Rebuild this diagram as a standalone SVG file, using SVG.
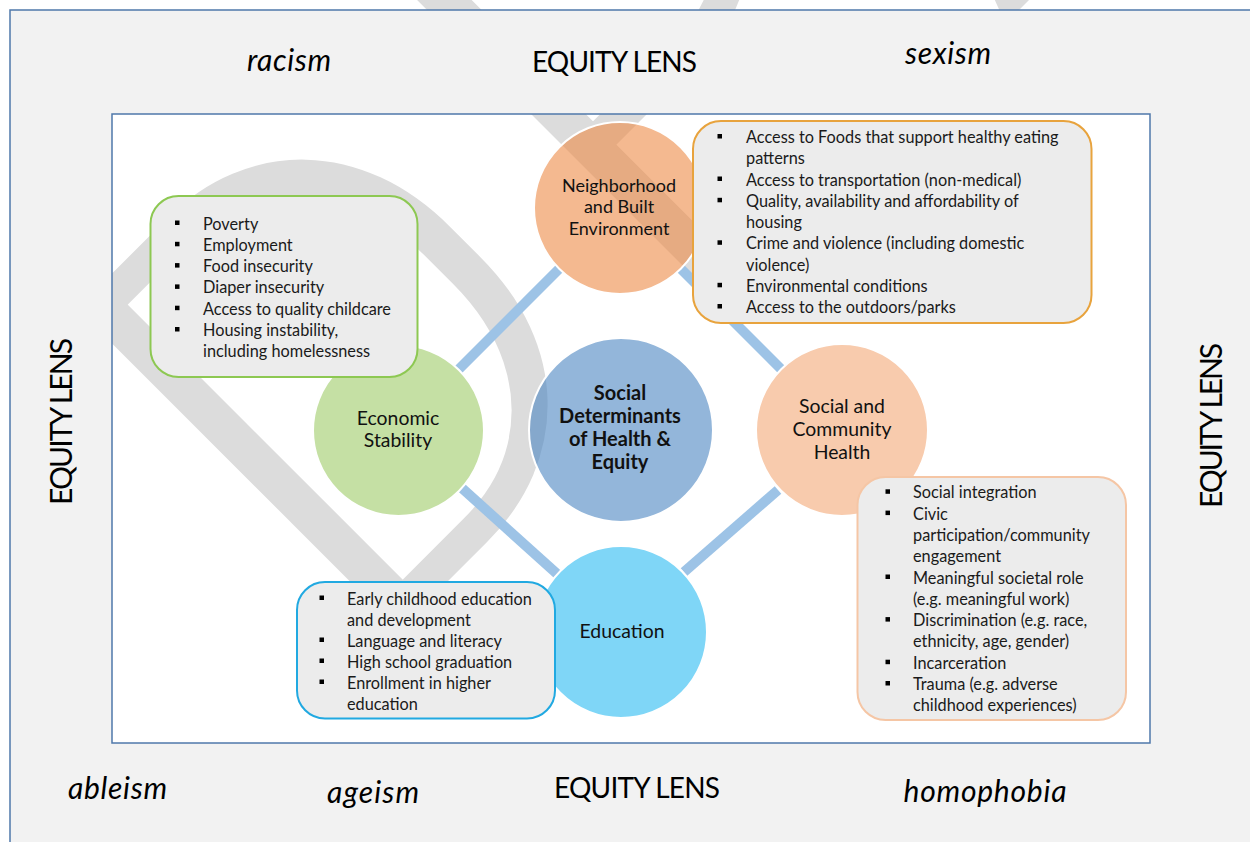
<svg xmlns="http://www.w3.org/2000/svg" width="1250" height="842" viewBox="0 0 1250 842">
<defs>
<style>
.lbl{font-family:Lato,"Open Sans","Liberation Sans",sans-serif;fill:#000}
.lens{font-size:28px}
.ism{font-size:30px;font-style:italic}
.box{font-family:Lato,"Liberation Sans",sans-serif;font-size:16.3px;fill:#1a1a1a}
.ct{font-family:Lato,"Liberation Sans",sans-serif;font-size:19.4px;fill:#111;text-anchor:middle}
.conn{stroke:#9dc3e6;stroke-width:10;fill:none}
.circ{stroke:#fff;stroke-width:2;fill-opacity:0.6}
.card{fill:#ececec;stroke-width:2}
.frame{fill:none;stroke:#4f78ab;stroke-width:1.5}
</style>
</defs>
<rect width="1250" height="842" fill="#fff"/>
<g id="watermark">
<text transform="translate(358,671) rotate(-45)" font-family="Roboto,'DejaVu Sans',sans-serif" font-weight="300" font-size="640" letter-spacing="40" fill="#dcdcdc">DRAFT</text>
</g>
<path id="frame-band" d="M10,10 H1252 V844 H10 Z M112,114 V743 H1150 V114 Z" fill="#f2f2f2" fill-rule="evenodd"/>
<rect class="frame" x="10" y="10" width="1250" height="840"/>
<rect class="frame" x="112" y="114" width="1038" height="629"/>

<g id="labels" class="lbl">
<text class="lens" x="614.5" y="72" text-anchor="middle" textLength="165">EQUITY LENS</text>
<text class="lens" x="637" y="798" text-anchor="middle" textLength="166">EQUITY LENS</text>
<text class="lens" transform="translate(72,421.5) rotate(-90)" text-anchor="middle" textLength="167" style="font-size:30px">EQUITY LENS</text>
<text class="lens" transform="translate(1222,425.5) rotate(-90)" text-anchor="middle" textLength="165" style="font-size:30px">EQUITY LENS</text>
<text class="ism" x="247" y="71" textLength="84">racism</text>
<text class="ism" x="905" y="64" textLength="86">sexism</text>
<text class="ism" x="68" y="799" textLength="99">ableism</text>
<text class="ism" x="327" y="803" textLength="92">ageism</text>
<text class="ism" x="903.5" y="802" textLength="163">homophobia</text>
</g>

<g id="connectors">
<line class="conn" x1="458.8" y1="369.2" x2="559.2" y2="268.8"/>
<line class="conn" x1="680.8" y1="268.8" x2="781.2" y2="369.2"/>
<line class="conn" x1="461.8" y1="488" x2="557.2" y2="574"/>
<line class="conn" x1="778" y1="490" x2="684" y2="572"/>
</g>

<g id="node-center">
<circle class="circ" cx="621" cy="430" r="92" fill="#4b85c1"/>
<text class="ct" style="font-weight:bold;font-size:20px"><tspan x="620" y="400">Social</tspan><tspan x="620" y="422.7">Determinants</tspan><tspan x="620" y="446">of Health &amp;</tspan><tspan x="620" y="468.5">Equity</tspan></text>
</g>

<g id="node-neighborhood">
<circle class="circ" cx="620" cy="208" r="86" fill="#ed8a46"/>
<text class="ct" style="font-size:18px"><tspan x="619" y="191.5">Neighborhood</tspan><tspan x="619" y="213">and Built</tspan><tspan x="619" y="234.5">Environment</tspan></text>
<rect class="card" x="693" y="121" width="398.5" height="202" rx="28" stroke="#e8a33d"/>
<g fill="#000"><rect x="717.5" y="134" width="4.5" height="4.5"/><rect x="717.5" y="176.5" width="4.5" height="4.5"/><rect x="717.5" y="197.8" width="4.5" height="4.5"/><rect x="717.5" y="240.3" width="4.5" height="4.5"/><rect x="717.5" y="282.8" width="4.5" height="4.5"/><rect x="717.5" y="304" width="4.5" height="4.5"/></g>
<text class="box"><tspan x="746" y="143">Access to Foods that support healthy eating</tspan><tspan x="746" y="164.3">patterns</tspan><tspan x="746" y="185.5">Access to transportation (non-medical)</tspan><tspan x="746" y="206.8">Quality, availability and affordability of</tspan><tspan x="746" y="228">housing</tspan><tspan x="746" y="249.3">Crime and violence (including domestic</tspan><tspan x="746" y="270.5">violence)</tspan><tspan x="746" y="291.8">Environmental conditions</tspan><tspan x="746" y="313">Access to the outdoors/parks</tspan></text>
</g>

<g id="node-economic">
<circle class="circ" cx="398.5" cy="430.5" r="85.5" fill="#9ecb67"/>
<text class="ct"><tspan x="398" y="424.5">Economic</tspan><tspan x="398" y="446.8">Stability</tspan></text>
<rect class="card" x="150.5" y="196" width="267" height="181" rx="28" stroke="#8dc852"/>
<g fill="#000"><rect x="175" y="220.5" width="4.5" height="4.5"/><rect x="175" y="241.8" width="4.5" height="4.5"/><rect x="175" y="263.1" width="4.5" height="4.5"/><rect x="175" y="284.4" width="4.5" height="4.5"/><rect x="175" y="305.7" width="4.5" height="4.5"/><rect x="175" y="327" width="4.5" height="4.5"/></g>
<text class="box"><tspan x="203" y="229.5">Poverty</tspan><tspan x="203" y="250.8">Employment</tspan><tspan x="203" y="272.1">Food insecurity</tspan><tspan x="203" y="293.4">Diaper insecurity</tspan><tspan x="203" y="314.7">Access to quality childcare</tspan><tspan x="203" y="336">Housing instability,</tspan><tspan x="203" y="357.3">including homelessness</tspan></text>
</g>

<g id="node-social">
<circle class="circ" cx="842" cy="430" r="86" fill="#f3a876"/>
<text class="ct"><tspan x="842" y="413">Social and</tspan><tspan x="842" y="436">Community</tspan><tspan x="842" y="459">Health</tspan></text>
<rect class="card" x="857.5" y="477" width="268.5" height="243" rx="28" stroke="#f5c6a5"/>
<g fill="#000"><rect x="885.5" y="489.3" width="4.5" height="4.5"/><rect x="885.5" y="510.6" width="4.5" height="4.5"/><rect x="885.5" y="574.5" width="4.5" height="4.5"/><rect x="885.5" y="617.1" width="4.5" height="4.5"/><rect x="885.5" y="659.7" width="4.5" height="4.5"/><rect x="885.5" y="681" width="4.5" height="4.5"/></g>
<text class="box"><tspan x="913" y="498.3">Social integration</tspan><tspan x="913" y="519.6">Civic</tspan><tspan x="913" y="540.9">participation/community</tspan><tspan x="913" y="562.2">engagement</tspan><tspan x="913" y="583.5">Meaningful societal role</tspan><tspan x="913" y="604.8">(e.g. meaningful work)</tspan><tspan x="913" y="626.1">Discrimination (e.g. race,</tspan><tspan x="913" y="647.4">ethnicity, age, gender)</tspan><tspan x="913" y="668.7">Incarceration</tspan><tspan x="913" y="690">Trauma (e.g. adverse</tspan><tspan x="913" y="711.3">childhood experiences)</tspan></text>
</g>

<g id="node-education">
<circle class="circ" cx="621" cy="632" r="86" fill="#2abbf2"/>
<text class="ct"><tspan x="622" y="638">Education</tspan></text>
<rect class="card" x="297" y="582" width="258" height="136.5" rx="28" stroke="#21a9e1"/>
<g fill="#000"><rect x="319.5" y="595.5" width="4.5" height="4.5"/><rect x="319.5" y="637.5" width="4.5" height="4.5"/><rect x="319.5" y="658.5" width="4.5" height="4.5"/><rect x="319.5" y="679.5" width="4.5" height="4.5"/></g>
<text class="box"><tspan x="347" y="604.5">Early childhood education</tspan><tspan x="347" y="625.5">and development</tspan><tspan x="347" y="646.5">Language and literacy</tspan><tspan x="347" y="667.5">High school graduation</tspan><tspan x="347" y="688.5">Enrollment in higher</tspan><tspan x="347" y="709.5">education</tspan></text>
</g>
</svg>
